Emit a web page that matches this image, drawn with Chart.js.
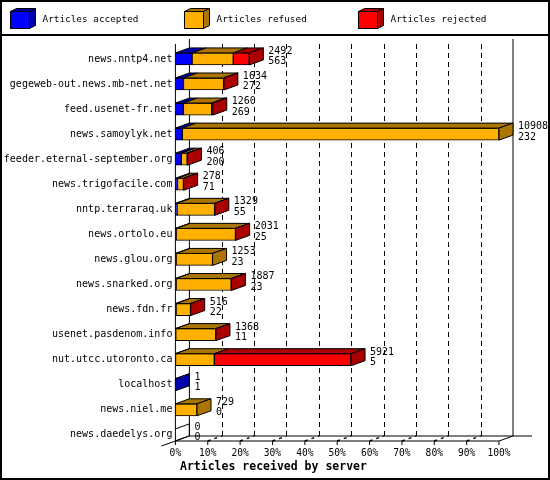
<!DOCTYPE html>
<html><head><meta charset="utf-8">
<script src="https://cdn.jsdelivr.net/npm/chart.js@4/dist/chart.umd.min.js"></script>
<style>html,body{margin:0;padding:0;background:#fff}canvas{display:block}</style>
</head><body>
<canvas id="c" width="550" height="480"></canvas>
<script>
const servers = ['news.nntp4.net','gegeweb-out.news.mb-net.net','feed.usenet-fr.net','news.samoylyk.net','feeder.eternal-september.org','news.trigofacile.com','nntp.terraraq.uk','news.ortolo.eu','news.glou.org','news.snarked.org','news.fdn.fr','usenet.pasdenom.info','nut.utcc.utoronto.ca','localhost','news.niel.me','news.daedelys.org'];
const totals   = [2492,1634,1260,10908,406,278,1329,2031,1253,1887,516,1368,5921,1,729,0];
const accepted = [563,272,269,232,200,71,55,25,23,23,22,11,5,1,0,0];
const refused  = [1388,1352,954,10676,196,199,1266,2000,1230,1858,489,1352,1306,0,729,0];
const rejected = [541,10,37,0,10,8,8,6,0,6,5,5,4610,0,0,0];
const seriesNames = ['Articles accepted','Articles refused','Articles rejected'];
const tickLabels = ['0%','10%','20%','30%','40%','50%','60%','70%','80%','90%','100%'];
const axisTitle = 'Articles received by server';

const frontColors = ['#0000FF','#FFB000','#FF0000'];
const sideColors  = ['#0000AA','#AA7500','#AA0000'];
const maxTotal = Math.max(...totals);
const MONO = '"DejaVu Sans Mono"';
const DX = 14, DY = 5;

function poly(ctx, pts, fill) {
  ctx.beginPath();
  ctx.moveTo(pts[0][0], pts[0][1]);
  for (let i = 1; i < pts.length; i++) ctx.lineTo(pts[i][0], pts[i][1]);
  ctx.closePath();
  if (fill) ctx.fill();
  ctx.stroke();
}
function seg(ctx, ax, ay, bx, by) {
  ctx.beginPath(); ctx.moveTo(ax, ay); ctx.lineTo(bx, by); ctx.stroke();
}

const threeD = {
  id: 'threeD',
  beforeDraw(chart) {
    const ctx = chart.ctx, W = chart.width, H = chart.height, x = chart.scales.x;
    ctx.save();
    ctx.fillStyle = '#fff'; ctx.fillRect(0, 0, W, H);
    ctx.strokeStyle = '#000';
    ctx.lineWidth = 2; ctx.strokeRect(1, 1, W - 2, H - 2);
    seg(ctx, 0, 35, W, 35);
    // legend
    ctx.lineWidth = 1;
    chart.data.datasets.forEach((ds, k) => {
      const bx = 10.5 + k * 174, by = 11.5, bw = 19, bh = 17, d = 6, e = 3;
      ctx.fillStyle = sideColors[k];
      poly(ctx, [[bx, by], [bx + d, by - e], [bx + bw + d, by - e], [bx + bw, by]], true);
      poly(ctx, [[bx + bw, by], [bx + bw + d, by - e], [bx + bw + d, by + bh - e], [bx + bw, by + bh]], true);
      ctx.fillStyle = frontColors[k];
      ctx.fillRect(bx, by, bw, bh); ctx.strokeRect(bx, by, bw, bh);
      ctx.fillStyle = '#000'; ctx.font = '9.4px ' + MONO;
      ctx.textBaseline = 'middle'; ctx.textAlign = 'left';
      ctx.fillText(ds.label, bx + 32, 20);
    });
    // wall and floor
    const floorY = 441, topY = 44;
    const px = v => x.getPixelForValue(v);
    const x0 = px(0), x1 = px(maxTotal);
    ctx.setLineDash([5, 4]);
    for (let i = 1; i < 10; i++) {
      const gx = Math.round(px(i * maxTotal / 10) + DX) + 0.5;
      seg(ctx, gx, topY, gx, floorY - DY);
    }
    ctx.setLineDash([]);
    seg(ctx, x0 + DX, topY - DY, x0 + DX, floorY - DY);
    seg(ctx, x1 + DX, topY - DY, x1 + DX, floorY - DY);
    seg(ctx, x0, topY, x0, floorY);
    seg(ctx, x0, floorY, x1, floorY);
    seg(ctx, x1, floorY, x1 + DX, floorY - DY);
    seg(ctx, x0 + DX, floorY - DY, x1 + DX + 19, floorY - DY);
    seg(ctx, x0 - DX, floorY + DY, x0 + DX, floorY - DY);
    for (let i = 0; i <= 10; i++) {
      const fx = px(i * maxTotal / 10);
      seg(ctx, fx, floorY, fx, floorY + 4);
      if (i > 0 && i < 10) {
        ctx.setLineDash([3, 4]); ctx.lineWidth = 1.5;
        seg(ctx, fx, floorY, fx + DX, floorY - DY);
        ctx.setLineDash([]); ctx.lineWidth = 1;
      }
    }
    // axis title
    ctx.fillStyle = '#000'; ctx.font = 'bold 11.5px ' + MONO;
    ctx.textAlign = 'left'; ctx.textBaseline = 'middle';
    ctx.fillText(axisTitle, 180, 467);
    ctx.restore();
  },
  afterDatasetsDraw(chart) {
    const ctx = chart.ctx, x = chart.scales.x;
    const metas = chart.data.datasets.map((d, k) => chart.getDatasetMeta(k));
    ctx.save();
    ctx.strokeStyle = '#000'; ctx.lineWidth = 1;
    servers.forEach((s, i) => {
      let last = -1;
      chart.data.datasets.forEach((ds, k) => { if (ds.data[i] > 0) last = k; });
      const el0 = metas[0].data[i].getProps(['x', 'y', 'base', 'height'], true);
      const top = el0.y - el0.height / 2, bot = el0.y + el0.height / 2;
      if (last < 0) {
        const b = el0.base;
        ctx.beginPath();
        ctx.moveTo(b, top); ctx.lineTo(b + DX, top - DY); ctx.lineTo(b + DX, bot - DY); ctx.lineTo(b, bot);
        ctx.stroke();
      }
      chart.data.datasets.forEach((ds, k) => {
        if (!(ds.data[i] > 0)) return;
        const el = metas[k].data[i].getProps(['x', 'y', 'base', 'height'], true);
        const xs = Math.min(el.base, el.x), xe = Math.max(el.base, el.x);
        ctx.fillStyle = sideColors[k];
        poly(ctx, [[xs, top], [xs + DX, top - DY], [xe + DX, top - DY], [xe, top]], true);
        if (k === last) {
          poly(ctx, [[xe, top], [xe + DX, top - DY], [xe + DX, bot - DY], [xe, bot]], true);
        }
      });
      // value labels
      const ex = x.getPixelForValue(totals[i]) + DX + 5;
      ctx.fillStyle = '#000'; ctx.font = '10px ' + MONO;
      ctx.textAlign = 'left'; ctx.textBaseline = 'alphabetic';
      ctx.fillText(String(totals[i]), ex, el0.y - 5);
      ctx.fillText(String(accepted[i]), ex, el0.y + 5.5);
    });
    ctx.restore();
  }
};

const seriesData = [accepted, refused, rejected];
new Chart(document.getElementById('c'), {
  type: 'bar',
  data: {
    labels: servers,
    datasets: seriesNames.map((n, k) => ({
      label: n, data: seriesData[k],
      backgroundColor: frontColors[k], borderColor: '#000', borderWidth: 1,
      borderSkipped: false, barThickness: 12, stack: 's'
    }))
  },
  options: {
    indexAxis: 'y', responsive: false, animation: false, devicePixelRatio: 1,
    layout: { padding: { top: 46.4, right: 51, left: 0, bottom: 0 } },
    plugins: { legend: { display: false }, tooltip: { enabled: false } },
    scales: {
      x: {
        stacked: true, min: 0, max: maxTotal,
        afterBuildTicks: s => { s.ticks = tickLabels.map((t, i) => ({ value: i * maxTotal / 10 })); },
        ticks: { callback: (v, i) => tickLabels[i], font: { family: MONO, size: 9.6 }, color: '#000', padding: 0, maxRotation: 0, autoSkip: false },
        grid: { display: false, drawTicks: false }, border: { display: false },
        afterFit: s => { s.height = 480 - 447.4; }
      },
      y: {
        stacked: true,
        ticks: { font: { family: MONO, size: 10 }, color: '#000', padding: 3, autoSkip: false },
        grid: { display: false, drawTicks: false }, border: { display: false },
        afterFit: s => { s.width = 175.4; }
      }
    }
  },
  plugins: [threeD]
});
</script>
</body></html>
